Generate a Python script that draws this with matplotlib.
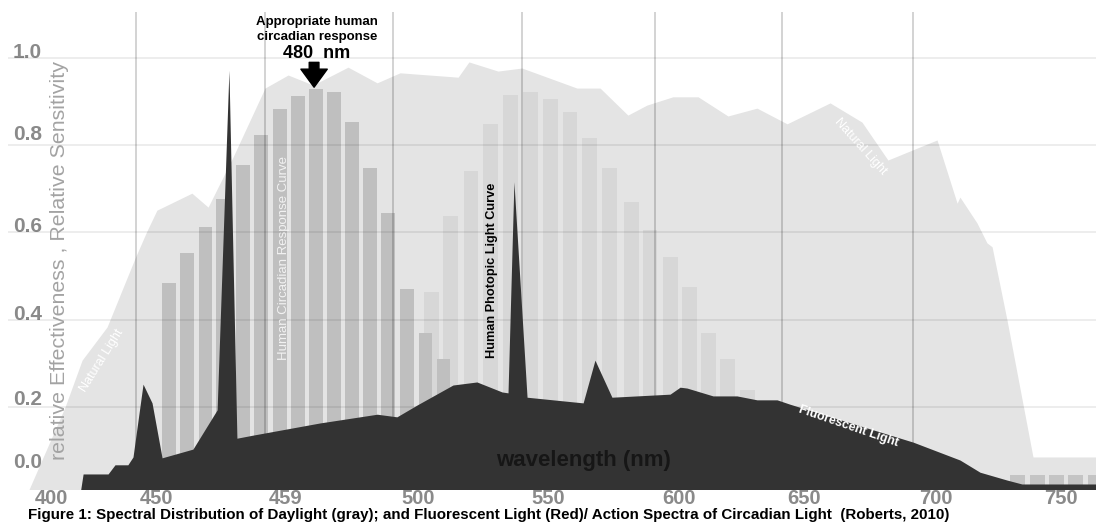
import numpy as np
import matplotlib.pyplot as plt

plt.rcParams['font.family'] = ['Liberation Sans', 'DejaVu Sans']

# daylight spectrum (light gray area)
day_x = [348.0, 362.8, 369.4, 379.1, 390.0, 394.6, 398.5, 412.1, 418.4, 428.1,
         440.5, 449.5, 459.2, 472.8, 484.1, 493.0, 515.6, 519.8, 531.1, 540.4,
         561.8, 570.8, 581.6, 589.0, 599.1, 608.9, 620.5, 631.8, 643.5, 660.2,
         672.6, 682.7, 701.8, 709.6, 710.7, 717.3, 721.2, 723.2, 729.0, 739.1, 763.6]
day_y = [0.0, 0.200, 0.307, 0.383, 0.541, 0.603, 0.651, 0.690, 0.658, 0.773,
         0.931, 0.961, 0.938, 0.979, 0.943, 0.966, 0.956, 0.991, 0.970, 0.977,
         0.931, 0.931, 0.869, 0.892, 0.911, 0.911, 0.867, 0.885, 0.849, 0.897,
         0.853, 0.766, 0.812, 0.667, 0.681, 0.622, 0.576, 0.567, 0.399, 0.085, 0.085]

# fluorescent lamp spectrum (dark area)
fluo_x = [368.6, 369.8, 379.5, 382.2, 387.2, 389.2, 393.1, 396.6, 400.5, 412.5,
          421.9, 426.5, 429.6, 435.8, 461.9, 484.1, 491.8, 499.6, 513.6, 522.9,
          532.7, 535.0, 537.3, 542.4, 564.2, 568.8, 575.4, 598.0, 601.9, 604.6,
          614.7, 624.0, 631.8, 639.6, 644.6, 692.5, 710.7, 718.5, 729.0, 734.8, 763.6]
fluo_y = [0.0, 0.046, 0.046, 0.067, 0.067, 0.085, 0.252, 0.209, 0.083, 0.103,
          0.193, 0.972, 0.128, 0.135, 0.163, 0.183, 0.177, 0.204, 0.250, 0.257,
          0.234, 0.232, 0.716, 0.222, 0.209, 0.307, 0.222, 0.229, 0.245, 0.243,
          0.225, 0.225, 0.216, 0.216, 0.206, 0.119, 0.078, 0.050, 0.032, 0.023, 0.023]

# circadian response curve (bars)
circ_x = [403.2, 410.2, 417.4, 424.2, 432.0, 439.0, 446.3, 453.3, 460.3, 467.3,
          474.5, 481.3, 488.5, 495.7, 502.9, 509.9]
circ_h = [0.484, 0.553, 0.612, 0.677, 0.755, 0.823, 0.883, 0.913, 0.929, 0.922,
          0.853, 0.748, 0.644, 0.470, 0.369, 0.310]

# photopic light curve (bars)
phot_x = [505.2, 512.8, 520.6, 528.2, 536.0, 543.7, 551.5, 559.1, 566.7, 574.5,
          583.0, 590.2, 598.2, 605.6, 612.8, 620.3, 628.1]
phot_h = [0.463, 0.638, 0.741, 0.849, 0.915, 0.922, 0.906, 0.876, 0.817, 0.748,
          0.670, 0.606, 0.544, 0.475, 0.369, 0.310, 0.239]

tail_x = [733.1, 740.9, 748.1, 755.6, 763.2]
tail_h = [0.044, 0.044, 0.044, 0.044, 0.044]

grid_x = [390.4, 440.5, 490.3, 540.4, 592.1, 641.5, 692.5]
grid_y = [0.2, 0.4, 0.6, 0.8, 1.0]

xtick_pos = [357.3, 398.5, 448.7, 500.0, 550.5, 601.4, 650.0, 701.3, 749.9]
xtick_lab = ['400', '450', '459', '500', '550', '600', '650', '700', '750']
ytick_pos = [0.078, 0.222, 0.417, 0.617, 0.828, 1.018]
ytick_lab = ['0.0', '0.2', '0.4', '0.6', '0.8', '1.0']

fig = plt.figure(figsize=(10.96, 5.22), dpi=100)
ax = fig.add_axes([8 / 1096, 33 / 522, 1088 / 1096, 477 / 522])

ax.fill_between(day_x, 0, day_y, color='#e4e4e4', lw=0, zorder=1)
ax.bar(phot_x, phot_h, width=5.8, color='#d7d7d7', zorder=2)
ax.bar(tail_x, tail_h, width=5.8, color='#c4c4c4', zorder=2)
ax.bar(circ_x, circ_h, width=5.4, color='#bfbfbf', zorder=3)

for g in grid_y:
    ax.axhline(g, color='black', alpha=0.08, lw=1.3, zorder=4)
for g in grid_x:
    ax.axvline(g, color='black', alpha=0.2, lw=1.2, zorder=4)

ax.fill_between(fluo_x, 0, fluo_y, color='#333333', lw=0, zorder=5)

ax.set_xlim(340.6, 763.6)
ax.set_ylim(0.0115, 1.1055)
for s in ax.spines.values():
    s.set_visible(False)

ax.set_xticks(xtick_pos, xtick_lab)
ax.set_yticks(ytick_pos, ytick_lab)
ax.tick_params(axis='x', length=0, pad=0, labelsize=14.5, labelcolor='#8a8a8a')
ax.tick_params(axis='y', length=0, pad=-24.5, labelsize=15, labelcolor='#8a8a8a')
for lbl in ax.get_xticklabels() + ax.get_yticklabels():
    lbl.set_fontweight('bold')

# labels inside the plot
ax.text(377.1, 0.307, 'Natural Light', rotation=58, color='white', fontsize=9,
        ha='center', va='center', zorder=6)
ax.text(671.8, 0.798, 'Natural Light', rotation=-48, color='white', fontsize=9,
        ha='center', va='center', zorder=6)
ax.text(447.8, 0.541, 'Human Circadian Response Curve', rotation=90, color='#f2f2f2',
        fontsize=9.5, ha='center', va='center', zorder=6)
ax.text(528.8, 0.514, 'Human Photopic Light Curve', rotation=90, color='black',
        fontsize=9.2, fontweight='bold', ha='center', va='center', zorder=6)
ax.text(667.2, 0.154, 'Fluorescent Light', rotation=-19, color='white', fontsize=9,
        fontweight='bold', ha='center', va='center', zorder=6)
ax.text(564.2, 0.078, 'wavelength (nm)', color='#161616', fontsize=16,
        fontweight='bold', ha='center', va='center', zorder=6)

# 480 nm marker
ax.annotate('', xy=(459.6, 0.933), xytext=(459.6, 0.990),
            arrowprops=dict(facecolor='black', edgecolor='black', width=7,
                            headwidth=19, headlength=13, shrink=0), zorder=6)
ax.text(460.7, 1.083, 'Appropriate human', fontsize=9.5, fontweight='bold',
        ha='center', va='center')
ax.text(460.7, 1.048, 'circadian response', fontsize=9.5, fontweight='bold',
        ha='center', va='center')
ax.text(460.7, 1.011, '480  nm', fontsize=13, fontweight='bold',
        ha='center', va='center')

fig.text(60 / 1096, 262 / 522, 'relative Effectiveness , Relative Sensitivity',
         rotation=90, color='#a3a3a3', fontsize=15.4, ha='center', va='center')
fig.text(28 / 1096, 0.5 / 522,
         'Figure 1: Spectral Distribution of Daylight (gray); and Fluorescent Light (Red)/ '
         'Action Spectra of Circadian Light  (Roberts, 2010)',
         fontsize=10.9, fontweight='bold', ha='left', va='bottom')

fig.savefig('out.png', dpi=100)
